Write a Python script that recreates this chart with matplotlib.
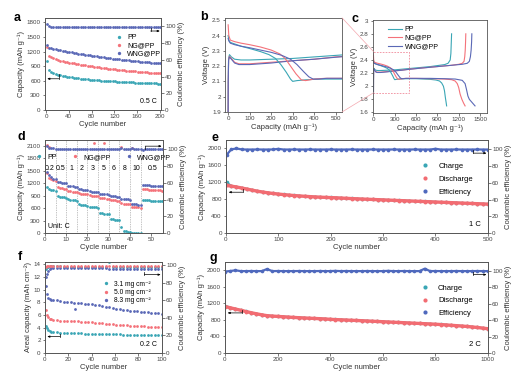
import matplotlib.pyplot as plt
from matplotlib.patches import Rectangle, ConnectionPatch
from matplotlib.lines import Line2D
from matplotlib.ticker import FormatStrFormatter

plt.rcParams['font.family'] = ['Liberation Sans', 'DejaVu Sans']
plt.rcParams['font.size'] = 4.5
plt.rcParams['axes.linewidth'] = 0.6
plt.rcParams['axes.edgecolor'] = '#555555'
plt.rcParams['axes.labelsize'] = 5.5
plt.rcParams['axes.labelpad'] = 1.5
plt.rcParams['axes.labelcolor'] = '#333333'
for k in ['xtick', 'ytick']:
    plt.rcParams[k + '.major.size'] = 1.8
    plt.rcParams[k + '.major.width'] = 0.5
    plt.rcParams[k + '.major.pad'] = 1.2
    plt.rcParams[k + '.labelsize'] = 4.5
    plt.rcParams[k + '.color'] = '#444444'

TEAL = '#3aa6b5'
PINK = '#f4727a'
BLUE = '#5a68b6'

# ---- panel a: cycling at 0.5 C ----
a_cycles = list(range(1, 200, 4)) + [200]
a_pp = [1000, 830, 790, 765, 745, 730, 717, 705, 695, 686, 678, 671, 664, 658, 652, 646,
        641, 636, 631, 626, 622, 618, 614, 610, 606, 603, 600, 597, 594, 591, 588, 585,
        582, 580, 577, 575, 572, 570, 567, 565, 563, 560, 558, 556, 554, 552, 550, 548,
        546, 544, 542]
a_ng = [1300, 1110, 1080, 1060, 1045, 1030, 1018, 1006, 995, 985, 975, 966, 957, 948,
        940, 932, 924, 917, 910, 903, 896, 889, 883, 877, 871, 865, 859, 853, 847, 842,
        837, 832, 827, 822, 817, 812, 807, 803, 799, 795, 791, 787, 783, 779, 775, 771,
        767, 763, 759, 755, 752]
a_wng = [1340, 1280, 1265, 1255, 1245, 1236, 1227, 1218, 1209, 1200, 1192, 1184, 1176,
         1168, 1160, 1152, 1144, 1137, 1130, 1123, 1116, 1109, 1102, 1095, 1089, 1083,
         1077, 1071, 1065, 1059, 1053, 1047, 1041, 1035, 1030, 1025, 1020, 1015, 1010,
         1005, 1000, 995, 991, 987, 983, 979, 975, 971, 967, 963, 960]
a_eff = [103.5, 100.4, 99.9, 99.7, 99.6, 99.6, 99.5, 99.6, 99.5, 99.4, 99.5, 99.4, 99.4,
         99.5, 99.3, 99.4, 99.3, 99.4, 99.3, 99.3, 99.2, 99.3, 99.2, 99.3, 99.2, 99.2,
         99.1, 99.2, 99.1, 99.2, 99.1, 99.1, 99.0, 99.1, 99.0, 99.1, 99.0, 99.0, 98.9,
         99.0, 98.9, 99.0, 98.9, 98.9, 98.8, 98.9, 98.8, 98.9, 98.8, 98.8, 98.8]

# ---- panels b / c: voltage profiles (capacity, voltage) ----
pp_dis_cap = [0, 3, 10, 30, 60, 100, 150, 190, 220, 245, 270, 290, 300, 320, 360, 420,
              500, 600, 700, 800, 880, 930, 960, 985, 1000, 1012, 1022, 1030]
pp_dis_v = [2.40, 2.37, 2.355, 2.345, 2.33, 2.315, 2.295, 2.275, 2.25, 2.21, 2.16, 2.115,
            2.10, 2.105, 2.11, 2.115, 2.115, 2.115, 2.11, 2.105, 2.095, 2.08, 2.05, 2.0,
            1.93, 1.83, 1.76, 1.70]
ng_dis_cap = [0, 3, 10, 30, 60, 100, 150, 200, 240, 265, 290, 315, 340, 360, 400, 450,
              500, 600, 800, 1000, 1100, 1150, 1180, 1200, 1220, 1245, 1270, 1290]
ng_dis_v = [2.47, 2.40, 2.37, 2.36, 2.35, 2.34, 2.325, 2.305, 2.28, 2.25, 2.2, 2.15, 2.11,
            2.105, 2.115, 2.12, 2.12, 2.12, 2.115, 2.11, 2.1, 2.08, 2.04, 1.98, 1.88,
            1.80, 1.74, 1.70]
wng_dis_cap = [0, 3, 10, 30, 60, 100, 150, 200, 250, 290, 320, 350, 375, 395, 420, 460,
               500, 600, 800, 1000, 1150, 1250, 1290, 1310, 1330, 1350, 1390, 1430]
wng_dis_v = [2.38, 2.365, 2.35, 2.34, 2.33, 2.32, 2.305, 2.29, 2.27, 2.245, 2.21, 2.165,
             2.13, 2.115, 2.115, 2.12, 2.12, 2.12, 2.12, 2.115, 2.11, 2.09, 2.04, 1.95,
             1.85, 1.80, 1.75, 1.70]
pp_chg_cap = [0, 0.5, 2, 6, 15, 30, 60, 100, 200, 300, 400, 500, 600, 700, 800, 900,
              1000, 1050, 1080, 1090, 1095, 1100]
pp_chg_v = [1.90, 2.10, 2.25, 2.275, 2.26, 2.245, 2.24, 2.24, 2.245, 2.25, 2.26, 2.27,
            2.28, 2.29, 2.30, 2.315, 2.33, 2.35, 2.40, 2.50, 2.65, 2.80]
ng_chg_cap = [0, 0.5, 2, 6, 15, 30, 50, 100, 200, 300, 400, 500, 700, 900, 1100, 1200,
              1250, 1275, 1285, 1292, 1297, 1300]
ng_chg_v = [1.90, 2.10, 2.24, 2.265, 2.25, 2.225, 2.215, 2.215, 2.225, 2.235, 2.245, 2.26,
            2.28, 2.30, 2.32, 2.335, 2.35, 2.38, 2.45, 2.55, 2.68, 2.80]
wng_chg_cap = [0, 0.5, 2, 6, 15, 30, 50, 100, 200, 300, 400, 500, 700, 900, 1100, 1250,
               1320, 1350, 1365, 1375, 1382, 1385]
wng_chg_v = [1.90, 2.10, 2.24, 2.26, 2.245, 2.22, 2.21, 2.21, 2.22, 2.235, 2.245, 2.258,
             2.28, 2.30, 2.32, 2.335, 2.35, 2.38, 2.45, 2.55, 2.68, 2.80]

# ---- panel d: rate capability ----
d_cycles = list(range(1, 56))
d_rates = ['0.2', '0.5', '1', '2', '3', '5', '6', '8', '10', '0.5']
d_rate_centers = [2.3, 7.3, 12.5, 17.5, 22.5, 27.6, 32.5, 37.6, 42.8, 50.5]
d_bounds = [5, 10, 15, 20, 25, 30, 35, 40, 45]
d_wng = [1460, 1400, 1350, 1310, 1290, 1240, 1225, 1215, 1205, 1200,
         1140, 1130, 1122, 1115, 1110, 1060, 1052, 1046, 1040, 1036,
         1005, 998, 992, 987, 982, 950, 942, 936, 930, 926,
         900, 892, 886, 880, 876, 830, 822, 816, 810, 806,
         710, 700, 694, 688, 684, 1165, 1160, 1155, 1150, 1145,
         1140, 1136, 1132, 1128, 1124]
d_ng = [1450, 1330, 1290, 1270, 1255, 1100, 1085, 1075, 1068, 1062,
        1020, 1008, 1000, 994, 990, 960, 950, 944, 938, 934,
        910, 902, 896, 890, 886, 850, 842, 836, 830, 826,
        800, 792, 786, 780, 776, 720, 712, 706, 700, 696,
        640, 630, 624, 618, 614, 1060, 1055, 1050, 1046, 1042,
        1038, 1034, 1030, 1026, 1022]
d_pp = [1100, 1060, 1040, 1030, 1020, 900, 880, 870, 862, 856,
        810, 800, 792, 786, 780, 690, 680, 672, 666, 660,
        640, 632, 626, 620, 616, 490, 480, 472, 466, 460,
        340, 332, 326, 320, 316, 140, 60, 45, 35, 30,
        8, 5, 4, 3, 3, 800, 795, 790, 786, 782,
        778, 774, 770, 766, 762]
d_eff_wng = [104, 101.5, 101, 100.8, 100.6, 100.4, 100.3, 100.3, 100.2, 100.2,
             100.2, 100.1, 100.1, 100.1, 100.1, 100.0, 100.0, 100.0, 100.0, 100.0,
             100.0, 100.0, 100.0, 100.0, 100.0, 100.0, 100.0, 100.0, 100.0, 100.0,
             100.0, 100.0, 100.0, 100.0, 100.0, 101.5, 100.5, 100.3, 100.2, 100.2,
             101.0, 100.5, 100.3, 100.2, 100.2, 98.5, 99.8, 100.0, 100.0, 100.0,
             100.0, 100.0, 100.0, 100.0, 100.0]
d_eff_ng_x = [1, 2, 23, 28, 36, 41]
d_eff_ng = [104.5, 102, 107.5, 107.5, 102, 101.5]

# ---- panel e: 1 C long cycling ----
e_cycles = [1] + list(range(10, 501, 10))
e_dis = [1130, 1110, 1090, 1065, 1040, 1015, 990, 970, 952, 936, 922, 910, 898, 888, 878,
         870, 862, 855, 849, 844, 839, 834, 828, 822, 816, 810, 805, 800, 795, 790, 785,
         780, 775, 770, 765, 760, 755, 750, 745, 740, 735, 730, 725, 720, 715, 710, 705,
         700, 695, 690, 685]
e_chg = [1200, 1115, 1093, 1068, 1043, 1018, 993, 973, 955, 939, 925, 913, 901, 891, 881,
         873, 865, 858, 852, 847, 842, 837, 831, 825, 819, 813, 808, 803, 798, 793, 788,
         783, 778, 773, 768, 763, 758, 753, 748, 743, 738, 733, 728, 723, 718, 713, 708,
         703, 698, 693, 688]
e_eff = [93.0, 99.6, 100.8, 99.6, 99.5, 99.5, 99.6, 99.5, 99.5, 99.6, 100.3, 99.5, 99.5,
         99.6, 99.5, 99.5, 99.6, 99.5, 99.5, 99.5, 99.6, 99.5, 99.5, 99.5, 99.6, 99.5,
         99.5, 99.5, 99.6, 99.5, 99.5, 99.5, 99.6, 99.5, 99.5, 99.5, 99.6, 99.5, 99.5,
         99.5, 100.4, 99.5, 99.5, 99.5, 99.6, 99.5, 99.5, 99.5, 99.6, 99.5, 99.5]

# ---- panel f: high areal loading at 0.2 C ----
f_cycles = [1, 2, 3, 4, 5, 7, 10, 13, 16, 19, 22, 25, 28, 31, 34, 37, 40, 43, 46, 49, 52,
            55, 58, 61, 64, 67, 70, 73, 76, 79, 82, 85, 88, 91, 94, 97, 100]
f_31 = [4.3, 3.9, 3.6, 3.45, 3.35, 3.3, 3.25, 3.22, 3.2, 3.18, 3.15, 3.12, 3.1, 3.08,
        3.06, 3.05, 3.04, 3.02, 3.0, 2.98, 2.97, 2.95, 2.94, 2.93, 2.92, 2.91, 2.9, 2.89,
        2.88, 2.87, 2.86, 2.86, 2.85, 2.84, 2.84, 2.83, 2.83]
f_50 = [6.8, 6.0, 5.6, 5.4, 5.3, 5.2, 5.15, 5.1, 5.08, 5.05, 5.02, 5.0, 4.98, 4.95, 4.92,
        4.9, 4.87, 4.8, 4.75, 4.7, 4.62, 4.55, 4.5, 4.45, 4.4, 4.37, 4.34, 4.3, 4.27,
        4.24, 4.21, 4.18, 4.15, 4.13, 4.11, 4.09, 4.07]
f_83 = [10.5, 9.3, 8.7, 8.5, 8.4, 8.35, 8.3, 8.2, 8.1, 8.05, 8.0, 7.95, 7.9, 7.85, 7.8,
        7.75, 7.7, 7.6, 7.5, 7.4, 7.3, 7.2, 7.1, 7.0, 6.9, 6.8, 6.75, 6.7, 6.6, 6.55, 6.5,
        6.45, 6.4, 6.35, 6.3, 6.25, 6.2]
f_out_x = [26]
f_out_83 = [6.9]
f_eff_31 = [96, 98, 98.5, 98.6, 98.7, 98.7, 98.6, 98.6, 98.5, 98.5, 98.5, 98.4, 98.4,
            98.4, 98.3, 98.3, 98.3, 98.2, 98.2, 98.2, 98.1, 103.5, 98.1, 98.0, 98.0, 98.0,
            97.9, 97.9, 97.9, 97.8, 97.8, 97.8, 97.8, 97.7, 97.7, 97.7, 97.7]
f_eff_50 = [98.5, 99.3, 99.5, 99.5, 99.4, 99.4, 99.4, 99.3, 99.3, 99.3, 99.3, 99.2, 99.2,
            99.2, 99.2, 99.1, 99.1, 99.1, 99.1, 99.0, 99.0, 99.0, 99.0, 99.0, 98.9, 98.9,
            98.9, 98.9, 98.9, 98.8, 98.8, 98.8, 98.8, 98.8, 98.7, 98.7, 98.7]
f_eff_83 = [87, 90.5, 94, 96, 96.8, 97.0, 97.0, 96.9, 96.9, 96.8, 96.8, 96.7, 96.7, 96.6,
            96.6, 96.5, 96.5, 96.4, 96.4, 96.3, 96.3, 96.2, 96.2, 96.1, 96.1, 96.0, 96.0,
            95.9, 95.9, 95.8, 95.8, 95.7, 95.7, 95.6, 95.6, 95.5, 95.5]

# ---- panel g: 2 C long cycling ----
g_cycles = [1] + list(range(20, 1001, 20))
g_dis = [1120, 1090, 1060, 1030, 1000, 970, 945, 920, 900, 890, 882, 874, 866, 858, 851,
         845, 839, 833, 827, 821, 812, 806, 800, 795, 789, 784, 778, 772, 766, 760, 754,
         748, 742, 736, 730, 724, 718, 712, 706, 700, 694, 686, 677, 668, 659, 650, 640,
         628, 615, 600, 585]
g_chg = [1140, 1093, 1063, 1033, 1003, 973, 948, 923, 903, 893, 885, 877, 869, 861, 854,
         848, 842, 836, 830, 824, 815, 809, 803, 798, 792, 787, 781, 775, 769, 763, 757,
         751, 745, 739, 733, 727, 721, 715, 709, 703, 697, 689, 680, 671, 662, 653, 643,
         631, 618, 603, 588]
g_eff = [99.0, 99.6, 100.5, 99.5, 99.5, 99.6, 99.5, 99.5, 102.0, 99.5, 99.6, 99.5, 99.5,
         99.5, 99.6, 99.5, 99.5, 99.5, 99.6, 99.5, 99.5, 99.8, 99.5, 99.6, 99.5, 99.5,
         99.5, 99.6, 99.5, 99.5, 99.5, 99.8, 99.5, 99.5, 99.6, 99.5, 99.5, 99.5, 102.5,
         99.5, 99.6, 99.5, 99.5, 99.5, 99.6, 99.5, 99.5, 99.5, 99.6, 99.5, 99.5]


def twin_eff(ax, top):
    ax2 = ax.twinx()
    ax2.set_ylim(0, top)
    ax2.set_yticks([0, 20, 40, 60, 80, 100])
    ax2.set_ylabel('Coulombic efficiency (%)')
    return ax2


def bracket_arrow(ax, x_tip, x_tail, y, dy):
    # little L-shaped arrow showing which axis a series belongs to
    ax.annotate('', xy=(x_tip, y), xytext=(x_tail, y), xycoords='axes fraction',
                arrowprops=dict(arrowstyle='-|>,head_length=0.3,head_width=0.12',
                                lw=0.5, color='k', shrinkA=0, shrinkB=0))
    ax.plot([x_tail, x_tail], [y, y + dy], transform=ax.transAxes, color='k', lw=0.5)


def panel_letter(fig, x, y, s):
    fig.text(x / 528, 1 - y / 386, s, fontsize=9, fontweight='bold', va='center', ha='left')


fig = plt.figure(figsize=(5.28, 3.86), dpi=100)
ms = 2.0

# a
ax = fig.add_axes([0.085, 0.715, 0.220, 0.238])
ax.plot(a_cycles, a_pp, 'o', color=TEAL, ms=ms, mew=0, label='PP')
ax.plot(a_cycles, a_ng, 'o', color=PINK, ms=ms, mew=0, label='NG@PP')
ax.plot(a_cycles, a_wng, 'o', color=BLUE, ms=ms, mew=0, label='WNG@PP')
ax.set_xlim(-2, 202)
ax.set_ylim(0, 1889)
ax.set_xticks([0, 40, 80, 120, 160, 200])
ax.set_yticks([0, 300, 600, 900, 1200, 1500, 1800])
ax.set_xlabel('Cycle number')
ax.set_ylabel('Capacity (mAh g⁻¹)')
ax.legend(loc='upper left', bbox_to_anchor=(0.56, 0.895), frameon=False, fontsize=5,
          handlelength=0.8, handletextpad=0.8, labelspacing=0.15, markerscale=1.2)
ax.text(0.96, 0.05, '0.5 C', transform=ax.transAxes, ha='right', va='bottom', fontsize=5)
bracket_arrow(ax, 0.02, 0.12, 0.34, 0.05)
ax2 = twin_eff(ax, 110)
ax2.plot(a_cycles, a_eff, 'o', color=BLUE, ms=ms, mew=0)
bracket_arrow(ax2, 0.99, 0.91, 0.86, 0.03)
panel_letter(fig, 14, 18, 'a')

# b
axb = fig.add_axes([0.426, 0.710, 0.222, 0.2435])
for cap, v, c in [(pp_chg_cap, pp_chg_v, TEAL), (ng_chg_cap, ng_chg_v, PINK),
                  (wng_chg_cap, wng_chg_v, BLUE), (pp_dis_cap, pp_dis_v, TEAL),
                  (ng_dis_cap, ng_dis_v, PINK), (wng_dis_cap, wng_dis_v, BLUE)]:
    axb.plot(cap, v, color=c, lw=0.8)
axb.set_xlim(-15, 530)
axb.set_ylim(1.9, 2.515)
axb.set_xticks([0, 100, 200, 300, 400, 500])
axb.set_yticks([1.9, 2.0, 2.1, 2.2, 2.3, 2.4, 2.5])
axb.yaxis.set_major_formatter(FormatStrFormatter('%g'))
axb.set_xlabel('Capacity (mAh g⁻¹)')
axb.set_ylabel('Voltage (V)')
panel_letter(fig, 200, 17, 'b')

# c
axc = fig.add_axes([0.706, 0.707, 0.216, 0.241])
axc.plot(pp_chg_cap, pp_chg_v, color=TEAL, lw=0.8, label='PP')
axc.plot(ng_chg_cap, ng_chg_v, color=PINK, lw=0.8, label='NG@PP')
axc.plot(wng_chg_cap, wng_chg_v, color=BLUE, lw=0.8, label='WNG@PP')
axc.plot(pp_dis_cap, pp_dis_v, color=TEAL, lw=0.8)
axc.plot(ng_dis_cap, ng_dis_v, color=PINK, lw=0.8)
axc.plot(wng_dis_cap, wng_dis_v, color=BLUE, lw=0.8)
axc.set_xlim(-10, 1596)
axc.set_ylim(1.59, 3.01)
axc.set_xticks([0, 300, 600, 900, 1200, 1500])
axc.set_yticks([1.6, 1.8, 2.0, 2.2, 2.4, 2.6, 2.8, 3.0])
axc.yaxis.set_major_formatter(FormatStrFormatter('%g'))
axc.set_xlabel('Capacity (mAh g⁻¹)')
axc.set_ylabel('Voltage (V)')
axc.legend(loc='upper left', bbox_to_anchor=(0.08, 1.0), frameon=False, fontsize=5,
           handlelength=2.0, handletextpad=0.4, labelspacing=0.2)
axc.add_patch(Rectangle((0, 1.9), 505, 0.63, fill=False, ec='#f08a9a', lw=0.6,
                        ls=(0, (2, 1.5))))
for yc, yb in [(2.53, 1.0), (1.9, 0.0)]:
    con = ConnectionPatch(xyA=(0, yc), coordsA=axc.transData, xyB=(1.0, yb),
                          coordsB=axb.transAxes, color='#f4a7ae', lw=0.5)
    fig.add_artist(con)
panel_letter(fig, 352, 19, 'c')

# d
axd = fig.add_axes([0.085, 0.396, 0.2235, 0.241])
for xb in d_bounds:
    axd.axvline(xb, color='#888888', lw=0.5, ls=(0, (1, 1.5)))
axd.plot(d_cycles, d_pp, 'o', color=TEAL, ms=ms, mew=0, label='PP')
axd.plot(d_cycles, d_ng, 'o', color=PINK, ms=ms, mew=0, label='NG@PP')
axd.plot(d_cycles, d_wng, 'o', color=BLUE, ms=ms, mew=0, label='WNG@PP')
axd.set_xlim(0, 55.5)
axd.set_ylim(0, 2236)
axd.set_xticks([0, 10, 20, 30, 40, 50])
axd.set_yticks([0, 300, 600, 900, 1200, 1500, 1800, 2100])
axd.set_xlabel('Cycle number')
axd.set_ylabel('Capacity (mAh g⁻¹)')
for lab, xc in zip(d_rates, d_rate_centers):
    axd.text(xc, 1560, lab, ha='center', va='center', fontsize=5)
axd.legend(loc='center', bbox_to_anchor=(0.5, 0.815), ncol=3, frameon=False, fontsize=5,
           handlelength=0.8, handletextpad=0.8, columnspacing=2.2, markerscale=1.2)
axd.text(0.03, 0.03, 'Unit: C', transform=axd.transAxes, ha='left', va='bottom', fontsize=5)
axd2 = twin_eff(axd, 110.7)
axd2.plot(d_eff_ng_x, d_eff_ng, 'o', color=PINK, ms=ms, mew=0)
axd2.plot(d_cycles, d_eff_wng, 'o', color=BLUE, ms=ms, mew=0)
bracket_arrow(axd2, 0.99, 0.85, 0.935, -0.03)
panel_letter(fig, 18, 137, 'd')


def long_cycle(axe, cyc, chg, dis, eff, xmax, xticks, rate):
    axe.plot(cyc, chg, '-o', color=TEAL, ms=2.6, mew=0, lw=1.5)
    axe.plot(cyc, dis, '-o', color='#f26c72', ms=2.8, mew=0, lw=2.4)
    axe.set_xlim(0, xmax)
    axe.set_ylim(0, 2196)
    axe.set_xticks(xticks)
    axe.set_yticks([0, 400, 800, 1200, 1600, 2000])
    axe.set_xlabel('Cycle number')
    axe.set_ylabel('Capacity (mAh g⁻¹)')
    axe.text(0.975, 0.06, rate, transform=axe.transAxes, ha='right', va='bottom', fontsize=5.5)
    bracket_arrow(axe, 0.01, 0.065, 0.44, 0.03)
    ax2 = twin_eff(axe, 110.7)
    ax2.plot(cyc, eff, '-o', color='#4f69bd', ms=2.6, mew=0, lw=1.6)
    bracket_arrow(ax2, 0.995, 0.945, 0.86, 0.03)
    handles = [Line2D([], [], ls='', marker='o', color=TEAL, ms=3, mew=0),
               Line2D([], [], ls='', marker='o', color='#f26c72', ms=3, mew=0),
               Line2D([], [], ls='', marker='o', color='#4f69bd', ms=3, mew=0)]
    ax2.legend(handles, ['Charge', 'Discharge', 'Efficiency'], loc='upper left',
               bbox_to_anchor=(0.72, 0.83), frameon=False, fontsize=5.5,
               handlelength=1.0, handletextpad=1.2, labelspacing=0.7)


# e
axe = fig.add_axes([0.428, 0.396, 0.496, 0.241])
long_cycle(axe, e_cycles, e_chg, e_dis, e_eff, 500, [0, 100, 200, 300, 400, 500], '1 C')
panel_letter(fig, 212, 138, 'e')

# f
axf = fig.add_axes([0.085, 0.0855, 0.2216, 0.236])
axf.plot(f_cycles, f_31, 'o', color=TEAL, ms=ms, mew=0, label='3.1 mg cm⁻²')
axf.plot(f_cycles, f_50, 'o', color=PINK, ms=ms, mew=0, label='5.0 mg cm⁻²')
axf.plot(f_cycles, f_83, 'o', color=BLUE, ms=ms, mew=0, label='8.3 mg cm⁻²')
axf.plot(f_out_x, f_out_83, 'o', color=BLUE, ms=ms, mew=0)
axf.set_xlim(0, 100)
axf.set_ylim(0, 14.37)
axf.set_xticks([0, 20, 40, 60, 80, 100])
axf.set_yticks([0, 2, 4, 6, 8, 10, 12, 14])
axf.set_xlabel('Cycle number')
axf.set_ylabel('Areal capacity (mAh cm⁻²)')
axf.legend(loc='upper left', bbox_to_anchor=(0.45, 0.86), frameon=False, fontsize=4.8,
           handlelength=0.8, handletextpad=0.8, labelspacing=0.2, markerscale=1.2)
axf.text(0.96, 0.05, '0.2 C', transform=axf.transAxes, ha='right', va='bottom', fontsize=5)
bracket_arrow(axf, 0.02, 0.13, 0.18, 0.03)
axf2 = twin_eff(axf, 103.8)
axf2.plot(f_cycles, f_eff_31, 'o', color=TEAL, ms=ms, mew=0)
axf2.plot(f_cycles, f_eff_83, 'o', color=BLUE, ms=ms, mew=0)
axf2.plot(f_cycles, f_eff_50, 'o', color=PINK, ms=ms, mew=0)
bracket_arrow(axf2, 0.99, 0.85, 0.86, 0.03)
panel_letter(fig, 18, 257, 'f')

# g
axg = fig.add_axes([0.426, 0.0855, 0.498, 0.236])
long_cycle(axg, g_cycles, g_chg, g_dis, g_eff, 1000, [0, 200, 400, 600, 800, 1000], '2 C')
panel_letter(fig, 210, 258, 'g')

fig.savefig('out.png', dpi=100)
